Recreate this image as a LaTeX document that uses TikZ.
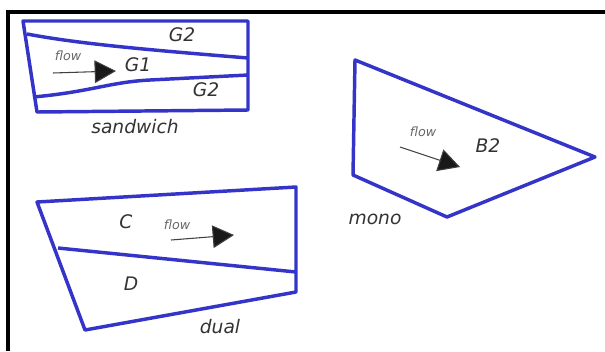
\documentclass[tikz,border=0pt]{standalone}
\usepackage{xcolor}
\usepackage{fontspec}
\setmainfont{DejaVu Sans}
\usepackage{tikz}
\usetikzlibrary{arrows.meta}

\definecolor{wallblue}{RGB}{52,52,200}

\begin{document}
\begin{tikzpicture}[x=0.75pt, y=-0.75pt,
        wall/.style={draw=wallblue, line width=2.6pt, line join=round},
        lbl/.style={font=\itshape\fontsize{14}{14}\selectfont, text=black!80},
        small/.style={font=\itshape\fontsize{9.5}{9.5}\selectfont, text=black!60},
        flowarrow/.style={draw=black!75, line width=0.8pt, -{Triangle[length=16pt, width=17pt, fill=black!90]}}]
        \useasboundingbox (0,0) rectangle (605,351);
        % frame
        \path[draw, line width=2.4pt] (605,12) -- (8,12) -- (8,351);

        % sandwich
        \path[wall] (23,21) -- (248,21) -- (248,110) -- (37,112) -- cycle;
        \path[wall] (27,34) .. controls (80,44) and (150,50) .. (248,58);
        \path[wall] (33,97) .. controls (90,92) and (110,82) .. (150,80) -- (248,75);
        \foreach \n/\x/\y/\w in {gtop/182/35/G2, gone/138/65/G1, gbot/206/90/G2}{
            \node[lbl] (\n) at (\x,\y) {\w};
        }
        \node[small] (flowa) at (68,56) {flow};
        \node[lbl] (sandwich) at (135,127) {sandwich};
        \coordinate (fa1) at (53,73);
        \coordinate (fa2) at (116,71);
        \path[flowarrow] (fa1) -- (fa2);

        % mono
        \path[wall] (355,60) -- (595,157) -- (447,217) -- (353,175) -- cycle;
        \node[small] (flowb) at (423,132) {flow};
        \node[lbl] (btwo) at (488,146) {B2};
        \node[lbl] (mono) at (375,219) {mono};
        \coordinate (fb1) at (400,147);
        \coordinate (fb2) at (460,167);
        \path[flowarrow] (fb1) -- (fb2);

        % dual
        \path[wall] (37,202) -- (296,187) -- (296,292) -- (85,330) -- cycle;
        \path[wall] (58,248) -- (296,272);
        \node[lbl] (cc) at (126,222) {C};
        \node[lbl] (dd) at (131,284) {D};
        \node[small] (flowc) at (177,225) {flow};
        \node[lbl] (dual) at (220,327) {dual};
        \coordinate (fc1) at (171,240);
        \coordinate (fc2) at (234,235);
        \path[flowarrow] (fc1) -- (fc2);
    \end{tikzpicture}
\end{document}
